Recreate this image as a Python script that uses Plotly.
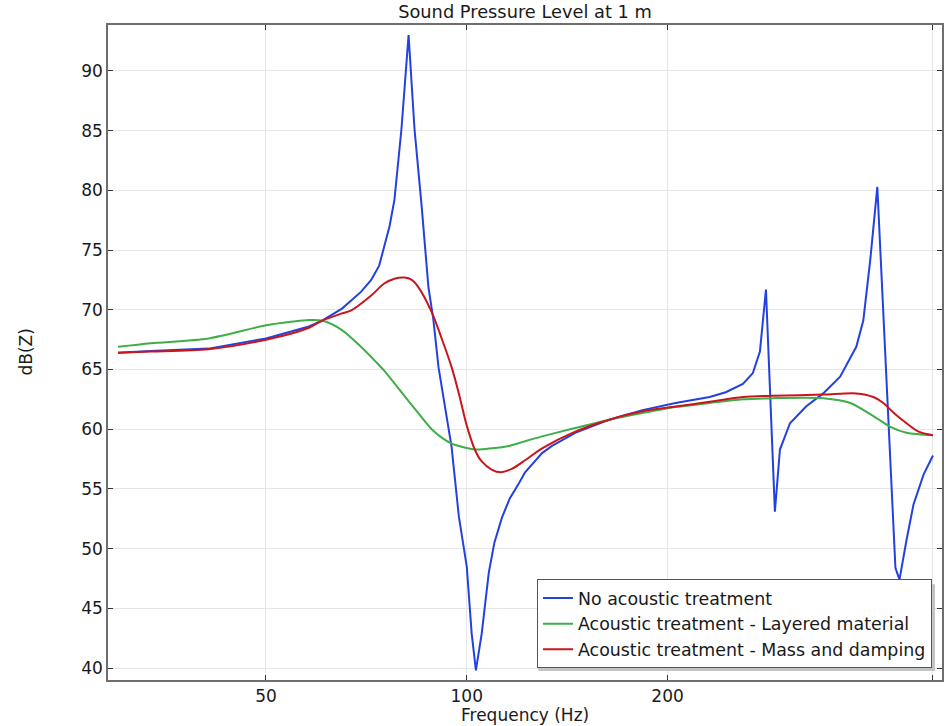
import plotly.graph_objects as go

# ---- data ----
freq_none = [30, 33.6, 41.0, 50, 58.0, 60.7, 65.0, 67.1, 69.4, 71.9, 73.9, 75.2, 76.6, 77.9,
             79.8, 81.8, 83.5, 85.6, 87.6, 89.1, 90.7, 94.9, 97.3, 100.0, 101.7, 103.2,
             105.3, 107.9, 110.0, 112.9, 116.0, 119.8, 122.3, 129.7, 134.2, 145.4, 163.6,
             183.4, 205.6, 231.3, 244.5, 259.4, 268.5, 275.1, 278.0, 280.9, 289.7, 294.8,
             305.2, 322.6, 342.3, 362.9, 383.7, 393.1, 402.7, 409.8, 412.6, 439.2, 445.4,
             456.3, 467.5, 484, 500]
spl_none = [66.4, 66.55, 66.75, 67.6, 68.6, 69.1, 70.1, 70.8, 71.5, 72.5, 73.7, 75.3, 77.0, 79.2,
            85.1, 93.0, 85.1, 78.6, 71.9, 69.2, 65.2, 58.5, 52.7, 48.5, 42.9, 39.8,
            42.9, 48.0, 50.5, 52.6, 54.2, 55.5, 56.4, 58.0, 58.6, 59.7, 60.8,
            61.6, 62.2, 62.7, 63.1, 63.8, 64.7, 66.5, 69.4, 71.7, 53.1, 58.3,
            60.5, 61.9, 63.0, 64.4, 66.9, 69.1, 74.2, 79.0, 80.3, 48.4, 47.4,
            50.7, 53.7, 56.2, 57.8]

freq_layer = [30, 33.6, 41.0, 50, 54.5, 58.0, 60.7, 65.0, 69.4, 73.2, 75.2, 79.8, 84.6,
              88.6, 91.7, 94.9, 97.3, 103.2, 109.1, 115.7, 122.3, 129.7, 145.4, 163.6,
              183.4, 205.6, 231.3, 259.4, 287.7, 342.3, 375.8, 407, 431.7, 456.3, 500]
spl_layer = [66.9, 67.2, 67.6, 68.7, 69.0, 69.15, 69.1, 68.3, 66.9, 65.6, 64.9, 63.1, 61.35,
             60.0, 59.3, 58.8, 58.6, 58.3, 58.4, 58.6, 59.0, 59.4, 60.1, 60.8,
             61.35, 61.85, 62.2, 62.5, 62.6, 62.6, 62.2, 61.1, 60.2, 59.7, 59.5]

freq_mass = [30, 33.6, 41.0, 50, 58.0, 60.7, 65.0, 67.1, 71.9, 75.2, 77.9, 80.7, 82.7,
             84.6, 88.6, 91.7, 94.9, 97.3, 100.0, 103.0, 105.3, 109.1, 112.5, 117, 122.3,
             129.7, 145.4, 163.6, 183.4, 205.6, 231.3, 259.4, 287.7, 342.3, 383.7, 407,
             421.3, 436, 456.3, 475.7, 500]
spl_mass = [66.4, 66.5, 66.7, 67.5, 68.5, 69.1, 69.7, 69.95, 71.2, 72.2, 72.6, 72.7, 72.5,
            71.9, 69.8, 67.6, 65.2, 63.0, 60.3, 58.2, 57.3, 56.6, 56.4, 56.7, 57.4,
            58.4, 59.8, 60.8, 61.5, 61.9, 62.3, 62.7, 62.8, 62.9, 63.0, 62.7,
            62.2, 61.4, 60.5, 59.8, 59.5]

names = ["No acoustic treatment",
         "Acoustic treatment - Layered material",
         "Acoustic treatment - Mass and damping"]
colors = ["#2341e0", "#3fae49", "#c8161d"]

x_ticks = [50, 100, 200, 500]
x_ticktext = ["50", "100", "200", ""]
y_ticks = [40, 45, 50, 55, 60, 65, 70, 75, 80, 85, 90]

FONT = "DejaVu Sans"
FS = 17
TXT = "#1a1a1a"

fig = go.Figure()
fig.add_trace(go.Scatter(x=freq_none, y=spl_none, mode="lines", name=names[0],
                         line=dict(color=colors[0], width=2)))
fig.add_trace(go.Scatter(x=freq_layer, y=spl_layer, mode="lines", name=names[1],
                         line=dict(color=colors[1], width=2, shape="spline", smoothing=0.8)))
fig.add_trace(go.Scatter(x=freq_mass, y=spl_mass, mode="lines", name=names[2],
                         line=dict(color=colors[2], width=2, shape="spline", smoothing=0.8)))

# legend shadow
fig.add_shape(type="rect", xref="paper", yref="paper",
              x0=0.5160, x1=0.9916, y0=0.0137, y1=0.1460,
              fillcolor="#c4c4c4", line=dict(width=0), layer="above")

fig.add_annotation(text="Frequency (Hz)", xref="paper", yref="paper", x=0.5, y=0,
                   yshift=-35, xanchor="center", yanchor="middle", showarrow=False,
                   font=dict(family=FONT, size=FS, color=TXT))
fig.add_annotation(text="dB(Z)", xref="paper", yref="paper", x=0, y=0.5,
                   xshift=-83, xanchor="center", yanchor="middle", textangle=-90,
                   showarrow=False, font=dict(family=FONT, size=FS, color=TXT))

fig.update_layout(
    width=948, height=726,
    margin=dict(l=108, r=6, t=25, b=46, autoexpand=False),
    paper_bgcolor="white", plot_bgcolor="white",
    font=dict(family=FONT, size=FS, color=TXT),
    title=dict(text="Sound Pressure Level at 1 m", x=0.5, xanchor="center",
               xref="paper", y=0.9835, yanchor="middle",
               font=dict(family=FONT, size=17.8, color=TXT)),
    xaxis=dict(type="log", range=[1.4621, 2.7125], tickvals=x_ticks, ticktext=x_ticktext,
               showgrid=True, gridcolor="#e6e6e6", gridwidth=1,
               showline=True, linecolor="#6e6e6e", linewidth=1.5, mirror="allticks",
               ticks="inside", ticklen=5, tickcolor="#333333",
               automargin=False, zeroline=False),
    yaxis=dict(range=[39.0, 93.85], tickvals=y_ticks,
               showgrid=True, gridcolor="#e6e6e6", gridwidth=1,
               showline=True, linecolor="#6e6e6e", linewidth=1.5, mirror="allticks",
               ticks="inside", ticklen=5, tickcolor="#333333",
               automargin=False, zeroline=False),
    legend=dict(x=0.988, xanchor="right", y=0.018, yanchor="bottom",
                bgcolor="white", bordercolor="#555555", borderwidth=1,
                font=dict(family=FONT, size=17.4, color=TXT),
                itemwidth=30, tracegroupgap=0),
    showlegend=True,
)

fig.write_html("out.html", config={"displayModeBar": False},
               post_script="document.body.style.margin='0';document.body.style.padding='0';")
